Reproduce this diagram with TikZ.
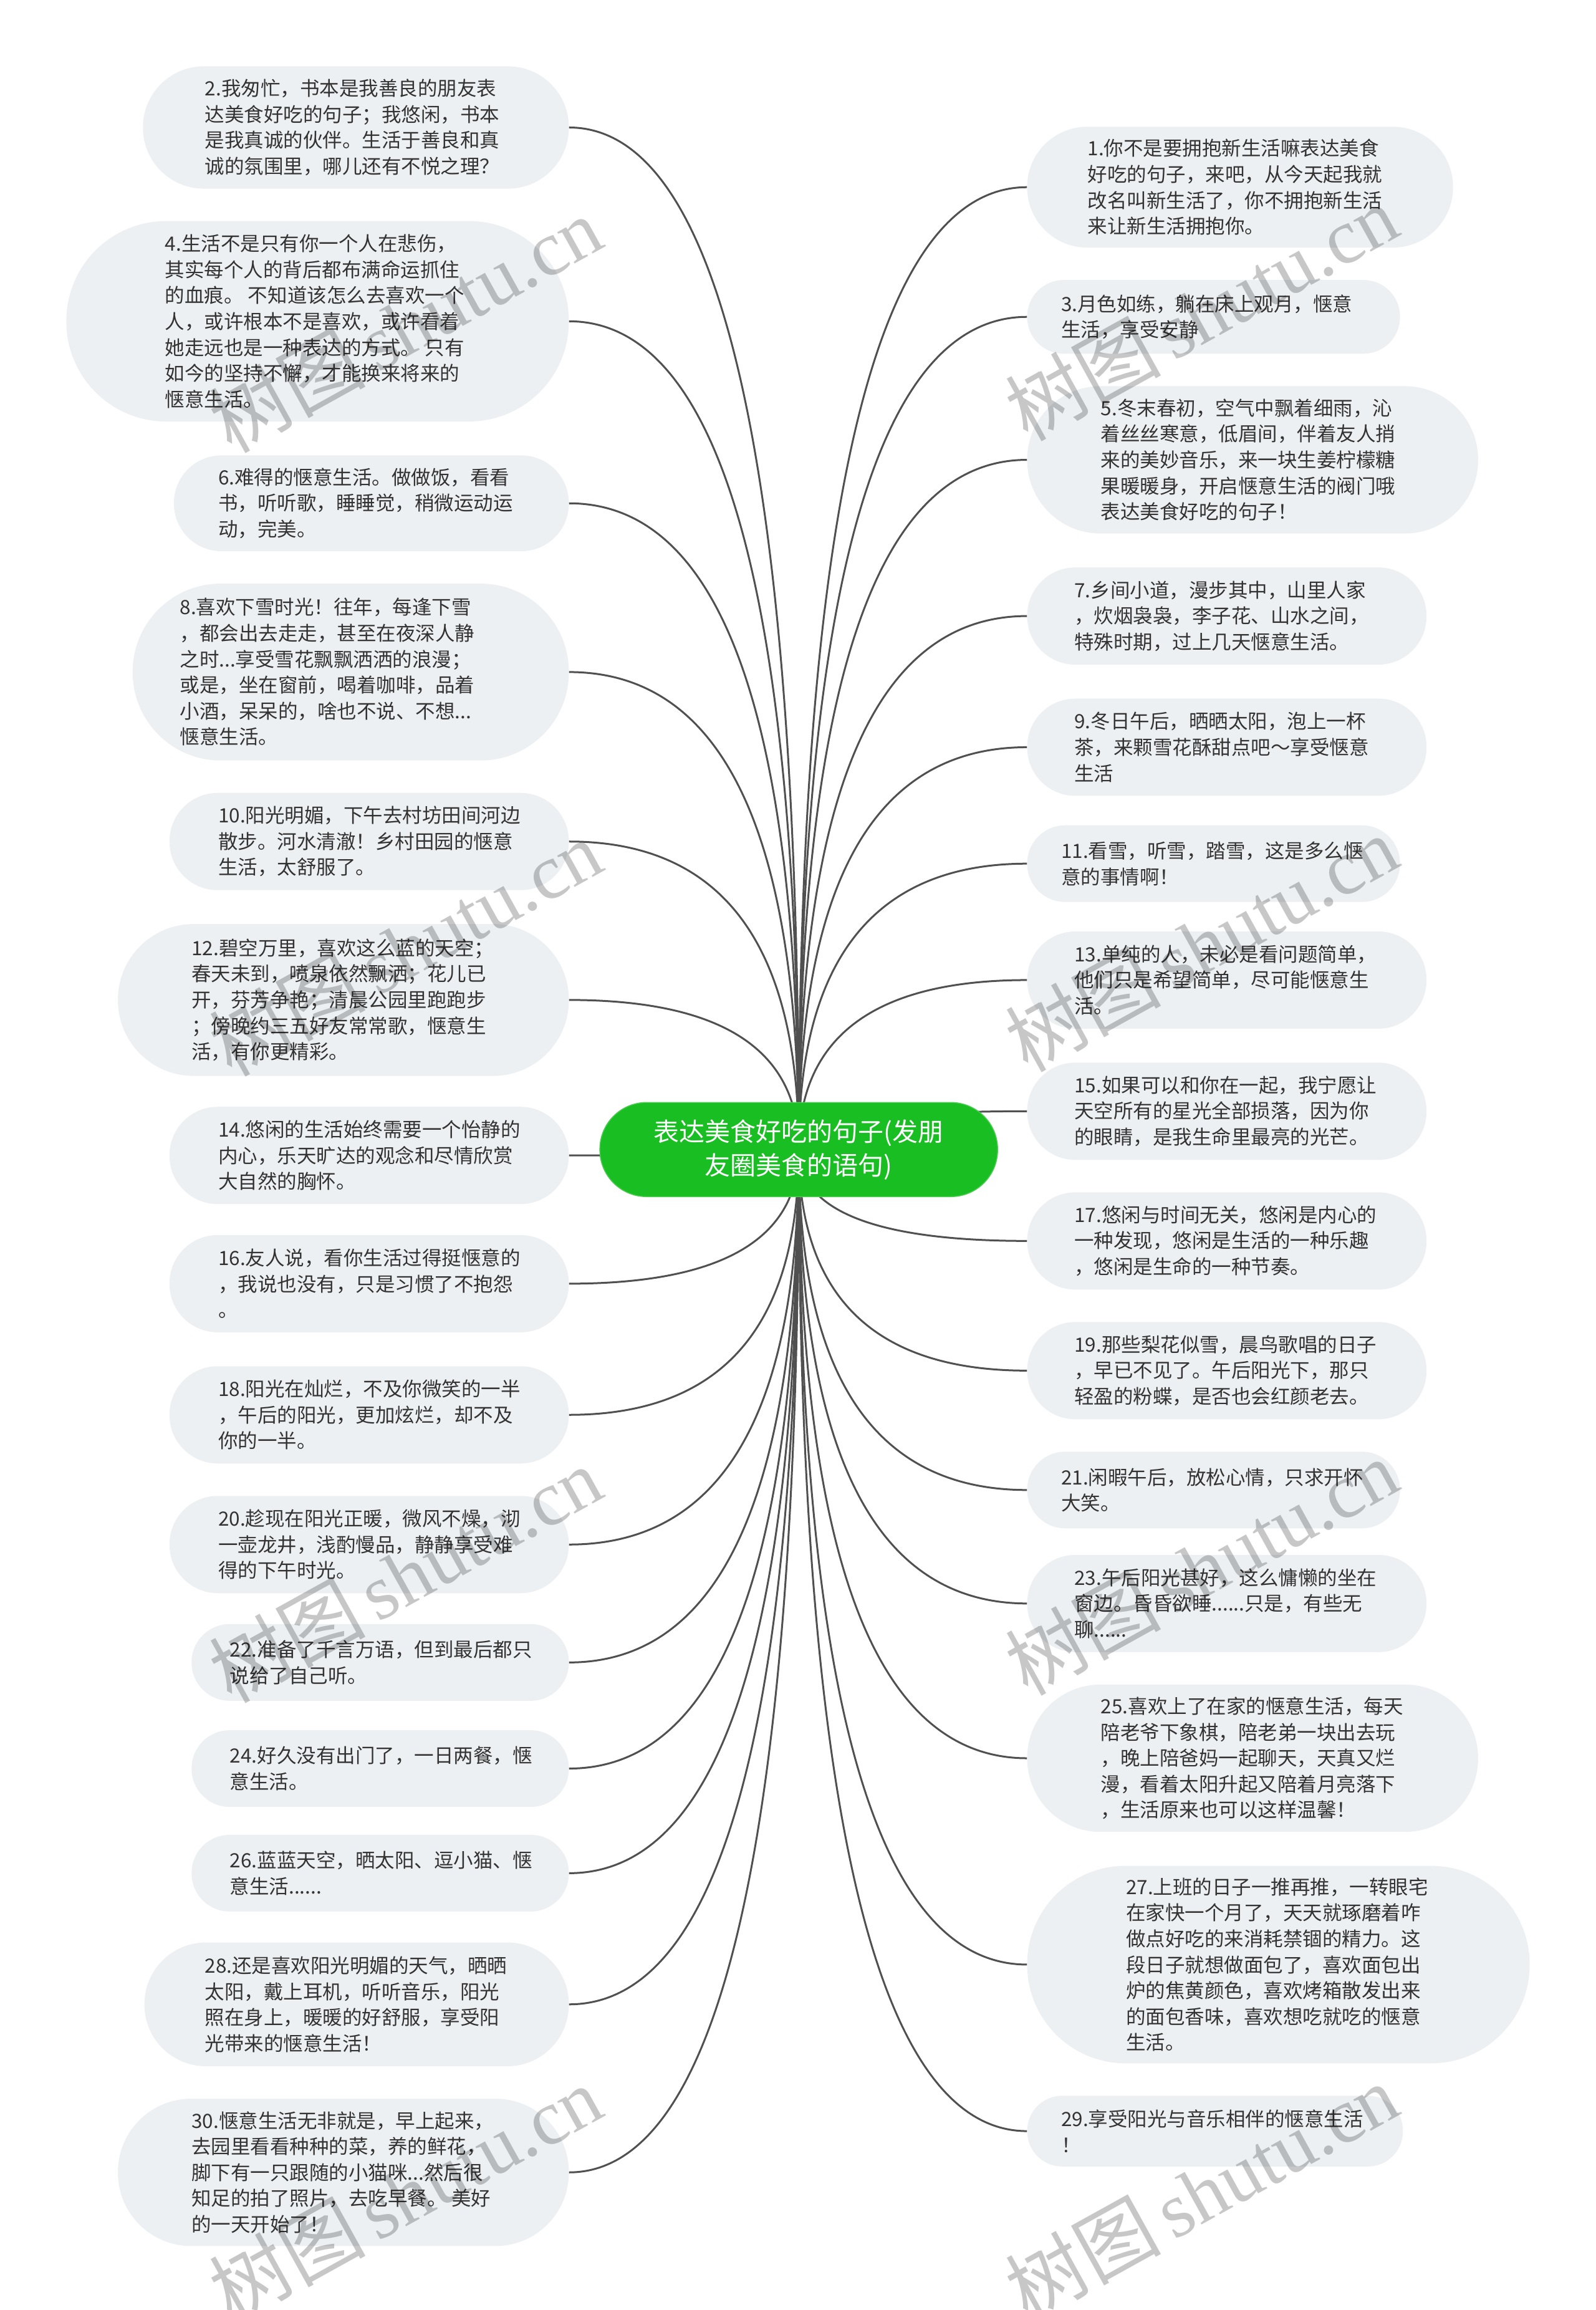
\documentclass[tikz,border=0pt]{standalone}
\usepackage{fontspec}
\newfontfamily\cjk{Noto Sans CJK SC}
\newfontfamily\wmserif{Liberation Serif}
\usetikzlibrary{calc}
\pgfdeclarelayer{bg}
\pgfdeclarelayer{edges}
\pgfsetlayers{bg,edges,main}
\definecolor{nodefill}{HTML}{EDF0F3}
\definecolor{textcol}{HTML}{333333}
\definecolor{linecol}{HTML}{505050}
\definecolor{rootgreen}{HTML}{19BF22}
\def\mmu{2.363804}
\newcommand\mmnode[7]{%
  \pgfmathsetmacro\mmW{(#3-#2)*\mmu}%
  \pgfmathsetmacro\mmH{(#5-#4)*\mmu}%
  \pgfmathsetmacro\mmR{(#5-#4)*\mmu/2-0.5}%
  \node[pill, minimum width=\mmW pt, minimum height=\mmH pt, rounded corners=\mmR pt] (#1) at ({(#2+#3)/2},{(#4+#5)/2}) {};
  \node[txt, anchor=west] (#1t) at (#6,{(#4+#5)/2}) {#7};
}
\newcommand\mmedge[2]{%
  \coordinate (k#1) at (root.center |- #1.#2);
  \draw[conn] (root.center) .. controls ($(root.center)!0.6667!(k#1)$) and ($(#1.#2)!0.6667!(k#1)$) .. (#1.#2);
}
\begin{document}
\begin{tikzpicture}[x=2.363804pt, y=-2.363804pt,
  pill/.style={draw=none, fill=nodefill, inner sep=0pt},
  txt/.style={inner sep=0pt, align=left, text=textcol, font=\cjk\fontsize{31.5pt}{41.6pt}\selectfont},
  rootbox/.style={fill=rootgreen, draw=rootgreen!80!white, line width=1.5pt, text=white, align=center, inner sep=0pt,
    minimum width=638pt, minimum height=151pt, rounded corners=75pt, font=\cjk\fontsize{41pt}{54pt}\selectfont},
  conn/.style={draw=linecol, line width=3pt},
  wm/.style={text=black, text opacity=0.22, inner sep=0pt, font=\fontsize{125pt}{130pt}\selectfont}]
\begin{pgfonlayer}{bg}
\fill[white] (0,0) rectangle (1083,1567.4);
\end{pgfonlayer}
\useasboundingbox (0,0) rectangle (1083,1567.4);

\node[rootbox] (root) at (542,780) {表达美食好吃的句子(发朋\\友圈美食的语句)};

% left column
\mmnode{n2}{97}{386}{45}{128}{139}{2.我匆忙，书本是我善良的朋友表\\达美食好吃的句子；我悠闲，书本\\是我真诚的伙伴。生活于善良和真\\诚的氛围里，哪儿还有不悦之理？}
\mmnode{n4}{45}{386}{150}{286}{112}{4.生活不是只有你一个人在悲伤，\\其实每个人的背后都布满命运抓住\\的血痕。 不知道该怎么去喜欢一个\\人，或许根本不是喜欢，或许看着\\她走远也是一种表达的方式。 只有\\如今的坚持不懈，才能换来将来的\\惬意生活。}
\mmnode{n6}{118}{386}{309}{374}{148}{6.难得的惬意生活。做做饭，看看\\书，听听歌，睡睡觉，稍微运动运\\动，完美。}
\mmnode{n8}{90}{386}{396}{516}{122}{8.喜欢下雪时光！往年，每逢下雪\\，都会出去走走，甚至在夜深人静\\之时...享受雪花飘飘洒洒的浪漫；\\或是，坐在窗前，喝着咖啡，品着\\小酒，呆呆的，啥也不说、不想...\\惬意生活。}
\mmnode{n10}{115}{386}{538}{604}{148}{10.阳光明媚，下午去村坊田间河边\\散步。河水清澈！乡村田园的惬意\\生活，太舒服了。}
\mmnode{n12}{80}{386}{627}{730}{130}{12.碧空万里，喜欢这么蓝的天空；\\春天未到，喷泉依然飘洒；花儿已\\开，芬芳争艳；清晨公园里跑跑步\\；傍晚约三五好友常常歌，惬意生\\活，有你更精彩。}
\mmnode{n14}{115}{386}{751}{817}{148}{14.悠闲的生活始终需要一个怡静的\\内心，乐天旷达的观念和尽情欣赏\\大自然的胸怀。}
\mmnode{n16}{115}{386}{838}{904}{148}{16.友人说，看你生活过得挺惬意的\\，我说也没有，只是习惯了不抱怨\\。}
\mmnode{n18}{115}{386}{927}{993}{148}{18.阳光在灿烂，不及你微笑的一半\\，午后的阳光，更加炫烂，却不及\\你的一半。}
\mmnode{n20}{115}{386}{1015}{1081}{148}{20.趁现在阳光正暖，微风不燥，沏\\一壶龙井，浅酌慢品，静静享受难\\得的下午时光。}
\mmnode{n22}{130}{386}{1102}{1154}{156}{22.准备了千言万语，但到最后都只\\说给了自己听。}
\mmnode{n24}{130}{386}{1174}{1226}{156}{24.好久没有出门了，一日两餐，惬\\意生活。}
\mmnode{n26}{130}{386}{1245}{1297}{156}{26.蓝蓝天空，晒太阳、逗小猫、惬\\意生活......}
\mmnode{n28}{98}{386}{1318}{1402}{139}{28.还是喜欢阳光明媚的天气，晒晒\\太阳，戴上耳机，听听音乐，阳光\\照在身上，暖暖的好舒服，享受阳\\光带来的惬意生活！}
\mmnode{n30}{80}{386}{1424}{1524}{130}{30.惬意生活无非就是，早上起来，\\去园里看看种种的菜，养的鲜花，\\脚下有一只跟随的小猫咪...然后很\\知足的拍了照片，去吃早餐。 美好\\的一天开始了！}

% right column
\mmnode{n1}{697}{986}{86}{168}{738}{1.你不是要拥抱新生活嘛表达美食\\好吃的句子，来吧，从今天起我就\\改名叫新生活了，你不拥抱新生活\\来让新生活拥抱你。}
\mmnode{n3}{697}{950}{190}{240}{720}{3.月色如练，躺在床上观月，惬意\\生活，享受安静}
\mmnode{n5}{697}{1003}{262}{362}{747}{5.冬末春初，空气中飘着细雨，沁\\着丝丝寒意，低眉间，伴着友人捎\\来的美妙音乐，来一块生姜柠檬糖\\果暖暖身，开启惬意生活的阀门哦\\表达美食好吃的句子！}
\mmnode{n7}{697}{968}{385}{451}{729}{7.乡间小道，漫步其中，山里人家\\，炊烟袅袅，李子花、山水之间，\\特殊时期，过上几天惬意生活。}
\mmnode{n9}{697}{968}{474}{540}{729}{9.冬日午后，晒晒太阳，泡上一杯\\茶，来颗雪花酥甜点吧～享受惬意\\生活}
\mmnode{n11}{697}{950}{560}{612}{720}{11.看雪，听雪，踏雪，这是多么惬\\意的事情啊！}
\mmnode{n13}{697}{968}{632}{698}{729}{13.单纯的人，未必是看问题简单，\\他们只是希望简单，尽可能惬意生\\活。}
\mmnode{n15}{697}{968}{721}{787}{729}{15.如果可以和你在一起，我宁愿让\\天空所有的星光全部损落，因为你\\的眼睛，是我生命里最亮的光芒。}
\mmnode{n17}{697}{968}{809}{875}{729}{17.悠闲与时间无关，悠闲是内心的\\一种发现，悠闲是生活的一种乐趣\\，悠闲是生命的一种节奏。}
\mmnode{n19}{697}{968}{897}{963}{729}{19.那些梨花似雪，晨鸟歌唱的日子\\，早已不见了。午后阳光下，那只\\轻盈的粉蝶，是否也会红颜老去。}
\mmnode{n21}{697}{950}{985}{1037}{720}{21.闲暇午后，放松心情，只求开怀\\大笑。}
\mmnode{n23}{697}{968}{1055}{1121}{729}{23.午后阳光甚好，这么慵懒的坐在\\窗边。昏昏欲睡......只是，有些无\\聊......}
\mmnode{n25}{697}{1003}{1143}{1243}{747}{25.喜欢上了在家的惬意生活，每天\\陪老爷下象棋，陪老弟一块出去玩\\，晚上陪爸妈一起聊天，天真又烂\\漫，看着太阳升起又陪着月亮落下\\，生活原来也可以这样温馨！}
\mmnode{n27}{697}{1038}{1266}{1400}{764}{27.上班的日子一推再推，一转眼宅\\在家快一个月了，天天就琢磨着咋\\做点好吃的来消耗禁锢的精力。这\\段日子就想做面包了，喜欢面包出\\炉的焦黄颜色，喜欢烤箱散发出来\\的面包香味，喜欢想吃就吃的惬意\\生活。}
\mmnode{n29}{697}{952}{1422}{1470}{720}{29.享受阳光与音乐相伴的惬意生活\\！}

\begin{pgfonlayer}{edges}
\foreach \nn in {n2,n4,n6,n8,n10,n12,n14,n16,n18,n20,n22,n24,n26,n28,n30}{\mmedge{\nn}{east}}
\foreach \nn in {n1,n3,n5,n7,n9,n11,n13,n15,n17,n19,n21,n23,n25,n27,n29}{\mmedge{\nn}{west}}
\end{pgfonlayer}

% watermarks
\node[wm, rotate=29] (w1) at (275,220) {{\cjk 树图}\hspace{0.15em}{\wmserif shutu.cn}};
\node[wm, rotate=29] (w2) at (815,212) {{\cjk 树图}\hspace{0.15em}{\wmserif shutu.cn}};
\node[wm, rotate=29] (w3) at (275,643) {{\cjk 树图}\hspace{0.15em}{\wmserif shutu.cn}};
\node[wm, rotate=29] (w4) at (815,640) {{\cjk 树图}\hspace{0.15em}{\wmserif shutu.cn}};
\node[wm, rotate=29] (w5) at (275,1068) {{\cjk 树图}\hspace{0.15em}{\wmserif shutu.cn}};
\node[wm, rotate=29] (w6) at (815,1063) {{\cjk 树图}\hspace{0.15em}{\wmserif shutu.cn}};
\node[wm, rotate=29] (w7) at (275,1488) {{\cjk 树图}\hspace{0.15em}{\wmserif shutu.cn}};
\node[wm, rotate=29] (w8) at (815,1487) {{\cjk 树图}\hspace{0.15em}{\wmserif shutu.cn}};
\end{tikzpicture}
\end{document}
